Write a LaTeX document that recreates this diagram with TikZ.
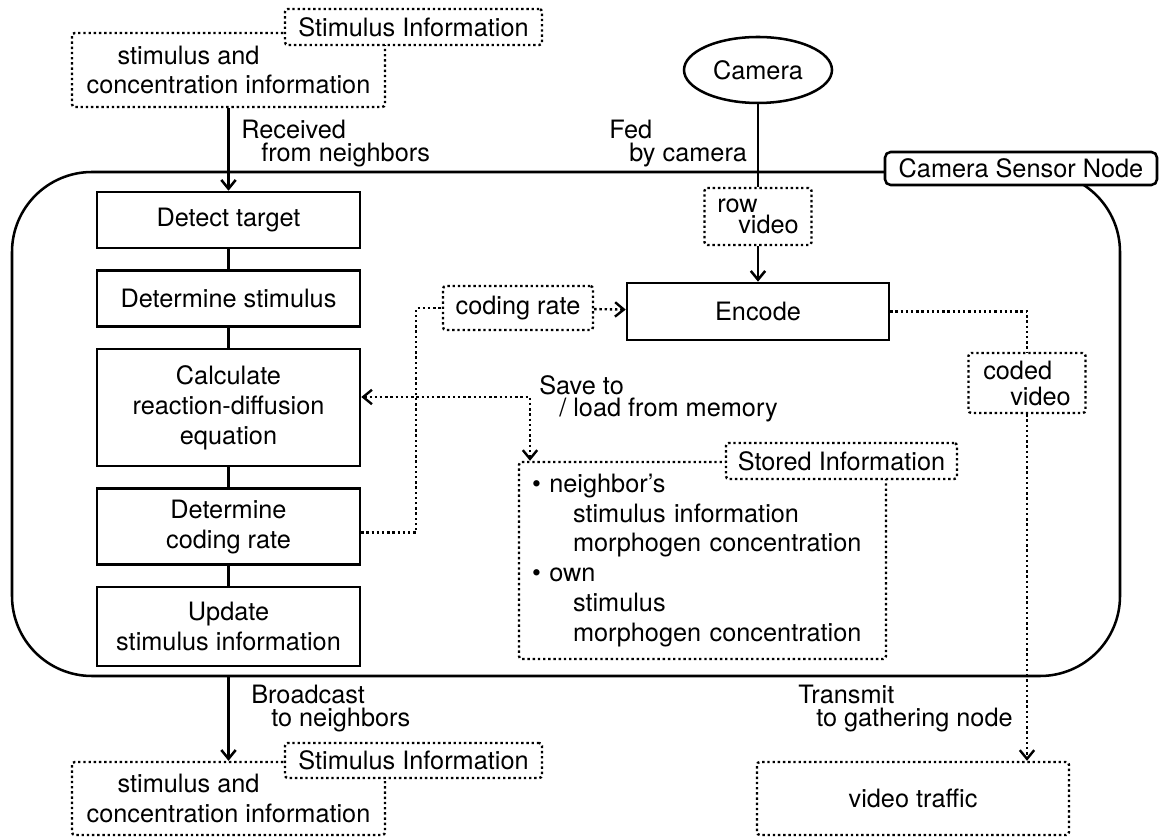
\documentclass[tikz,border=0pt]{standalone}
\usepackage{fontspec}
\setmainfont{TeX Gyre Heros}
\usetikzlibrary{positioning}
\usetikzlibrary{shapes.geometric}
\usetikzlibrary{arrows.meta}

\tikzset{
  procbox/.style={draw, line width=1.8pt, minimum width=6.575cm, align=center},
  dotline/.style={line width=1.7pt, dash pattern=on 1.7pt off 2pt},
  infobox/.style={draw, dotline, rounded corners=2pt, align=left},
  tagbox/.style={infobox, fill=white, align=center, minimum height=0.9cm},
  note/.style={inner sep=0pt, align=left, font=\fontsize{18}{16}\selectfont},
}

\begin{document}
\begin{tikzpicture}[font=\fontsize{18}{21.3}\selectfont, line width=1.8pt,
    >={Straight Barb[length=2.2mm,width=3.6mm]}]
\useasboundingbox (0,0) rectangle (28.975,20.95);

% sensor node frame
\node[draw, rounded corners=2cm, minimum width=27.7cm, minimum height=12.6cm] (sensor) at (14.15,10.35) {};
\node[draw, fill=white, rounded corners=4pt, minimum width=6.8cm, minimum height=0.825cm] (sensorlbl) at (25.525,16.7375) {Camera Sensor Node};

% received information
\node[infobox, minimum width=7.825cm, minimum height=1.85cm] (stimin) at (5.7125,19.2) {\hspace*{0.775cm}stimulus and\\concentration information};
\node[tagbox, minimum width=6.425cm] (stiminlbl) at (10.3375,20.275) {Stimulus Information};

% processing steps
\node[procbox, minimum height=1.4cm] (detect) at (5.7125,15.45) {Detect target};
\node[procbox, minimum height=1.4cm, below=0.5cm of detect] (detstim) {Determine stimulus};
\node[procbox, minimum height=2.925cm, below=0.5cm of detstim] (calc) {Calculate\\reaction-diffusion\\equation};
\node[procbox, minimum height=1.9cm, below=0.5cm of calc] (rate) {Determine\\coding rate};
\node[procbox, minimum height=1.975cm, below=0.5cm of rate] (update) {Update\\stimulus information};

% camera and encoder
\node[draw, ellipse, minimum width=3.7cm, minimum height=1.65cm] (camera) at (18.95,19.2) {Camera};
\node[infobox, minimum width=2.675cm, minimum height=1.425cm, font=\fontsize{18}{15}\selectfont] (rowvid) at (18.95,15.5375) {row\\\hspace*{0.525cm}video};
\node[procbox, minimum width=6.55cm, minimum height=1.425cm] (encode) at (18.95,13.1625) {Encode};
\node[infobox, align=center, minimum width=3.75cm, minimum height=1.1cm] (coderate) at (12.95,13.25) {coding rate};
\node[infobox, minimum width=2.925cm, minimum height=1.5cm, font=\fontsize{18}{18.5}\selectfont] (coded) at (25.675,11.375) {coded\\\hspace*{0.675cm}video};

% memory
\node[infobox, text width=8.525cm, inner xsep=0.325cm, minimum height=4.925cm] (stored) at (17.5625,6.9375)
  {• neighbor's\\\hspace*{1.025cm}stimulus information\\\hspace*{1.025cm}morphogen concentration\\• own\\\hspace*{1.025cm}stimulus\\\hspace*{1.025cm}morphogen concentration};
\node[tagbox, minimum width=5.775cm] (storedlbl) at (21.0375,9.425) {Stored Information};
\coordinate (memo) at (13.25,11.025);

% sent information
\node[infobox, minimum width=7.825cm, minimum height=1.825cm] (stimout) at (5.7125,0.9875) {\hspace*{0.775cm}stimulus and\\concentration information};
\node[tagbox, minimum width=6.425cm, minimum height=0.875cm] (stimoutlbl) at (10.3375,1.9375) {Stimulus Information};
\node[infobox, align=center, minimum width=7.8cm, minimum height=1.825cm] (traffic) at (22.825,0.9875) {video traffic};

% connectors
\draw[->] (stimin) -- (detect);
\draw (detect) -- (detstim) (detstim) -- (calc) (calc) -- (rate) (rate) -- (update);
\draw[->] (update.south |- sensor.south) -- (stimout);
\draw (camera) -- (rowvid);
\draw[->] (rowvid) -- (encode);
\draw[dotline] ([yshift=-0.15cm]rate.east) -- ++(1.375,0) |- (coderate.west);
\draw[dotline, ->] (coderate) -- (encode);
\draw[dotline, <->] (calc.east |- memo) -- (memo) -- (memo |- stored.north);
\draw[dotline] (encode.east) -| (coded.north);
\draw[dotline, ->] (coded) -- (coded |- traffic.north);

% labels
\node[note, anchor=north west] (recv) at (6.0,17.975) {Received\\\hspace*{0.5cm}from neighbors};
\node[note, anchor=north west] (fed) at (15.2,17.975) {Fed\\\hspace*{0.5cm}by camera};
\node[note, anchor=north west] (save) at (13.45,11.6) {Save to\\\hspace*{0.5cm}/ load from memory};
\node[note, anchor=north west] (bcast) at (6.25,3.85) {Broadcast\\\hspace*{0.5cm}to neighbors};
\node[note, anchor=north west] (trans) at (19.925,3.85) {Transmit\\\hspace*{0.45cm}to gathering node};
\end{tikzpicture}
\end{document}
